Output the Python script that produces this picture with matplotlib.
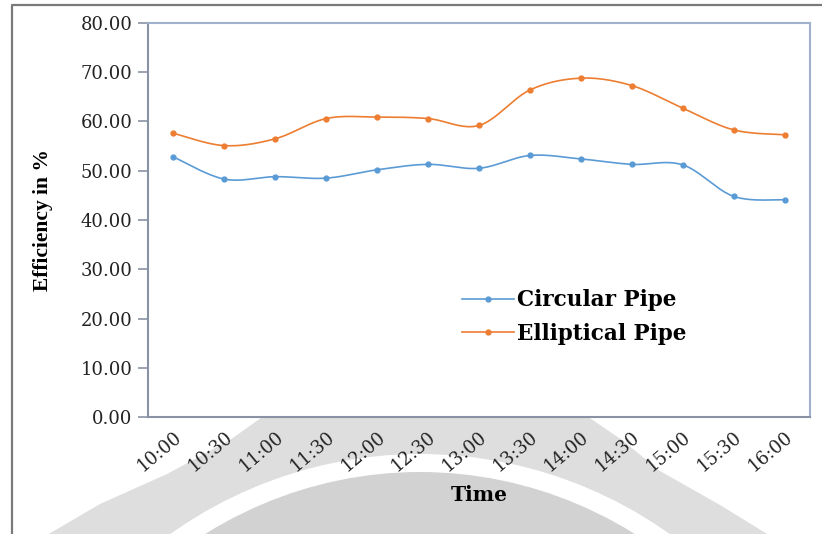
import numpy as np
import matplotlib
matplotlib.use("Agg")
from matplotlib import pyplot as plt
from matplotlib import patches, transforms
from matplotlib.lines import Line2D

# values
times = ['10:00', '10:30', '11:00', '11:30', '12:00', '12:30', '13:00',
         '13:30', '14:00', '14:30', '15:00', '15:30', '16:00']
circular = [52.8, 48.3, 48.8, 48.5, 50.2, 51.3, 50.5, 53.1, 52.4, 51.3, 51.2, 44.8, 44.1]
elliptical = [57.6, 55.1, 56.5, 60.6, 60.9, 60.6, 59.2, 66.4, 68.8, 67.3, 62.7, 58.3, 57.3]
yticks = [0, 10, 20, 30, 40, 50, 60, 70, 80]


def smooth(x, y, n=24):
    # Excel style smoothed line: bezier segments with catmull-rom control points
    x = np.asarray(x, float)
    y = np.asarray(y, float)
    px = np.concatenate([[x[0]], x, [x[-1]]])
    py = np.concatenate([[y[0]], y, [y[-1]]])
    t = np.linspace(0, 1, n)
    xs, ys = [], []
    for i in range(1, len(px) - 2):
        p0 = np.array([px[i], py[i]])
        p3 = np.array([px[i + 1], py[i + 1]])
        c1 = p0 + (p3 - np.array([px[i - 1], py[i - 1]])) / 6
        c2 = p3 - (np.array([px[i + 2], py[i + 2]]) - p0) / 6
        pts = ((1 - t)[:, None] ** 3 * p0 + 3 * ((1 - t) ** 2 * t)[:, None] * c1
               + 3 * ((1 - t) * t ** 2)[:, None] * c2 + (t ** 3)[:, None] * p3)
        xs.extend(pts[:, 0])
        ys.extend(pts[:, 1])
    return xs, ys


W, H = 822, 534
fig = plt.figure(figsize=(W / 100, H / 100), dpi=100)
fig.patch.set_facecolor('white')

# pixel coordinates (y down) for the decoration in the background
pix = transforms.Affine2D().scale(1 / W, -1 / H).translate(0, 1) + fig.transFigure

# grey watermark seal under the axis
outer = [(30, 545), (100, 504), (167, 474), (230, 440), (272, 410), (578, 410),
         (622, 440), (660, 471), (720, 505), (785, 545)]
fig.add_artist(patches.Polygon(outer, closed=True, transform=pix,
                               facecolor='#dedede', edgecolor='none', zorder=-3))
fig.add_artist(patches.Ellipse((420, 900), 874, 892, transform=pix,
                               facecolor='white', edgecolor='none', zorder=-2))
fig.add_artist(patches.Ellipse((420, 900), 829, 856, transform=pix,
                               facecolor='#d2d2d2', edgecolor='none', zorder=-1))

# outer frame of the chart
fig.add_artist(Line2D([12, 12, W + 5], [H + 5, 5, 5], transform=pix,
                      color='#7a7a7a', linewidth=1.6, zorder=-1))

ax = fig.add_axes([148 / W, 1 - 417 / H, (810 - 148) / W, (417 - 23) / H])
ax.set_facecolor('white')

x = np.arange(len(times))
blue = '#5B9BD5'
orange = '#ED7D31'

sx, sy = smooth(x, circular)
ax.plot(sx, sy, color=blue, linewidth=1.2)
ax.plot(x, circular, linestyle='none', marker='o', markersize=3.5, color=blue)
sx, sy = smooth(x, elliptical)
ax.plot(sx, sy, color=orange, linewidth=1.2)
ax.plot(x, elliptical, linestyle='none', marker='o', markersize=3.5, color=orange)

ax.set_xlim(-0.5, len(times) - 0.5)
ax.set_ylim(0, 80)
ax.set_yticks(yticks)
ax.set_yticklabels(['%.2f' % v for v in yticks], fontsize=13, family='DejaVu Serif',
                   color='#222222')
ax.set_xticks(x)
ax.set_xticklabels(times, fontsize=13, family='DejaVu Serif', color='#222222',
                   rotation=40, ha='right', rotation_mode='anchor')
ax.tick_params(axis='y', length=7, width=1.2, color='#8a93a5', pad=4)
ax.tick_params(axis='x', length=0, pad=8)

for side in ['left', 'bottom']:
    ax.spines[side].set_color('#8a93a5')
    ax.spines[side].set_linewidth(1.5)
for side in ['top', 'right']:
    ax.spines[side].set_color('#9fb1cc')
    ax.spines[side].set_linewidth(1.5)

ax.set_xlabel('Time', fontsize=14.5, fontweight='bold', family='DejaVu Serif',
              labelpad=7)
ax.set_ylabel('Efficiency in %', fontsize=15.5, fontweight='bold',
              family='Liberation Serif', labelpad=20)

handles = [Line2D([], [], color=blue, linewidth=1.2, marker='o', markersize=3.5),
           Line2D([], [], color=orange, linewidth=1.2, marker='o', markersize=3.5)]
leg = ax.legend(handles, ['Circular Pipe', 'Elliptical Pipe'], loc='center left',
                bbox_to_anchor=(462 / W, 1 - 317 / H), bbox_transform=fig.transFigure,
                frameon=False, borderpad=0, borderaxespad=0, handlelength=2.4,
                handletextpad=0.15, labelspacing=0.53,
                prop={'family': 'DejaVu Serif', 'weight': 'bold', 'size': 15.5})

fig.savefig('out.png', dpi=100)
